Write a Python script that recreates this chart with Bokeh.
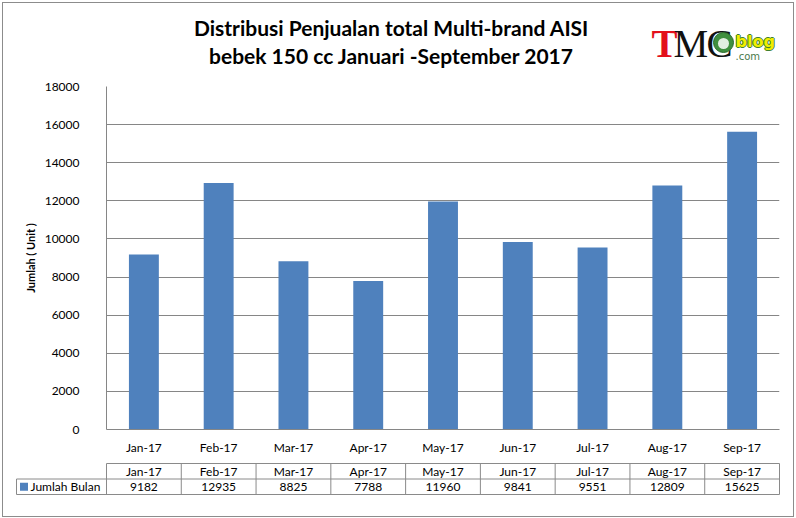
from bokeh.plotting import figure
from bokeh.models import Range1d, FactorRange, FixedTicker, InlineStyleSheet
from bokeh.layouts import column
from bokeh.embed import file_html
from bokeh.resources import INLINE
from bokeh.core.properties import value

# ---- data ----
months = ["Jan-17", "Feb-17", "Mar-17", "Apr-17", "May-17", "Jun-17", "Jul-17", "Aug-17", "Sep-17"]
units = [9182, 12935, 8825, 7788, 11960, 9841, 9551, 12809, 15625]
series_name = "Jumlah Bulan"
title_lines = ["Distribusi Penjualan total Multi-brand AISI", "bebek 150 cc Januari -September 2017"]
y_label = "Jumlah ( Unit )"
y_ticks = [0, 2000, 4000, 6000, 8000, 10000, 12000, 14000, 16000, 18000]

# ---- style / layout ----
BAR = "#4F81BD"
GRID = "#868686"
TBL = "#8a8a8a"
FONT = "Lato"
W = 796
TOP_H = 78
MAIN_H = 381
TBL_H = 59
F_LEFT, F_RIGHT = 106, 779

common = dict(output_backend="svg", toolbar_location=None, frame_align=False)

# ---- header figure: title + logo ----
h = figure(width=W, height=TOP_H, x_range=Range1d(0, W), y_range=Range1d(TOP_H, 0),
           title=None, x_axis_location=None, y_axis_location=None,
           min_border_left=0, min_border_right=0, min_border_top=0, min_border_bottom=0, **common)
h.grid.visible = False
h.outline_line_color = None
h.text(x=[391, 391], y=[27, 55], text=title_lines, text_align="center", text_baseline="middle",
       text_font=value(FONT), text_font_style="bold", text_font_size="21px", text_color="black")
# logo
h.text(x=[651], y=[43], text=["T"], text_font=value("Liberation Serif"), text_font_style="bold",
       text_font_size="39px", text_color="#e3101b", text_baseline="middle")
h.text(x=[673, 706], y=[43, 43], text=["M", "C"], text_font=value("Liberation Serif"),
       text_font_size="39px", text_color="#111111", text_baseline="middle")
h.scatter(x=[723], y=[42], marker="circle", size=20, fill_color="#3f8f3f", line_color="#2c6a2c")
h.scatter(x=[723], y=[43], marker="circle", size=11, fill_color="#ffffff", line_color=None, fill_alpha=0.85)
for dx, dy in [(-1, 0), (1, 0), (0, -1), (0, 1)]:
    h.text(x=[735 + dx], y=[41 + dy], text=["blog"], text_font=value("DejaVu Sans"),
           text_font_style="bold", text_font_size="16px", text_color="#3f7f2f", text_baseline="middle")
h.text(x=[735], y=[41], text=["blog"], text_font=value("DejaVu Sans"), text_font_style="bold",
       text_font_size="16px", text_color="#f0ee00", text_baseline="middle")
h.text(x=[735], y=[56], text=[".com"], text_font=value("DejaVu Sans"), text_font_size="10px",
       text_color="#4a7a4a", text_baseline="middle")

# ---- main chart ----
p = figure(width=W, height=MAIN_H, x_range=FactorRange(factors=months),
           y_range=Range1d(0, 18000), title=None,
           min_border_left=F_LEFT, min_border_right=W - F_RIGHT, min_border_top=8, min_border_bottom=30,
           **common)
p.outline_line_color = None
p.vbar(x=months, top=units, width=0.4, color=BAR, line_color=None)

p.xgrid.grid_line_color = None
p.ygrid.grid_line_color = GRID

p.yaxis.ticker = FixedTicker(ticks=y_ticks)
p.yaxis.major_tick_line_color = None
p.yaxis.minor_tick_line_color = None
p.yaxis.axis_line_color = GRID
p.yaxis.major_label_standoff = 21
p.yaxis.major_label_text_font = FONT
p.yaxis.major_label_text_font_size = "12px"
p.yaxis.major_label_text_color = "black"
p.yaxis.axis_label = y_label
p.yaxis.axis_label_text_font = FONT
p.yaxis.axis_label_text_font_style = "bold"
p.yaxis.axis_label_text_font_size = "11px"
p.yaxis.axis_label_standoff = 5
p.yaxis.axis_label_text_color = "black"

p.xaxis.major_tick_line_color = None
p.xaxis.minor_tick_line_color = None
p.xaxis.axis_line_color = GRID
p.xaxis.major_label_standoff = 4
p.xaxis.major_label_text_font = FONT
p.xaxis.major_label_text_font_size = "12px"
p.xaxis.major_label_text_color = "black"

# ---- data table ----
n = len(months)
cw = (F_RIGHT - F_LEFT) / n
t = figure(width=W, height=TBL_H, x_range=Range1d(-F_LEFT / cw, (W - F_LEFT) / cw),
           y_range=Range1d(TBL_H, 0), title=None, x_axis_location=None, y_axis_location=None,
           min_border_left=0, min_border_right=0, min_border_top=0, min_border_bottom=0, **common)
t.grid.visible = False
t.outline_line_color = None

xL = (16 - F_LEFT) / cw
y_top, y_mid, y_bot = 4, 19.5, 35
cols = list(range(n + 1))
t.segment(x0=cols, y0=[y_top] * len(cols), x1=cols, y1=[y_bot] * len(cols), line_color=TBL)
t.segment(x0=[xL], y0=[y_mid], x1=[xL], y1=[y_bot], line_color=TBL)
t.segment(x0=[0, xL, xL], y0=[y_top, y_mid, y_bot], x1=[n, n, n], y1=[y_top, y_mid, y_bot],
          line_color=TBL)

centers = [i + 0.5 for i in range(n)]
t.text(x=centers, y=[(y_top + y_mid) / 2] * n, text=months, text_align="center",
       text_baseline="middle", text_font=value(FONT), text_font_size="12px", text_color="black")
t.text(x=centers, y=[(y_mid + y_bot) / 2] * n, text=[str(v) for v in units], text_align="center",
       text_baseline="middle", text_font=value(FONT), text_font_size="12px", text_color="black")
t.scatter(x=[xL + 7.5 / cw], y=[(y_mid + y_bot) / 2], marker="square", size=8, color=BAR, line_color=None)
t.text(x=[xL + 14 / cw], y=[(y_mid + y_bot) / 2], text=[series_name], text_align="left",
       text_baseline="middle", text_font=value(FONT), text_font_size="12px", text_color="black")

frame_css = InlineStyleSheet(css="""
:host { position: relative; }
:host::after { content: ""; position: absolute; left: 2px; top: 2px; right: 2px; bottom: 1px;
  border: 1px solid #8c8c8c; pointer-events: none; z-index: 100; }
""")
layout = column(h, p, t, spacing=0, stylesheets=[frame_css])
open("out.html", "w").write(file_html(layout, INLINE))
